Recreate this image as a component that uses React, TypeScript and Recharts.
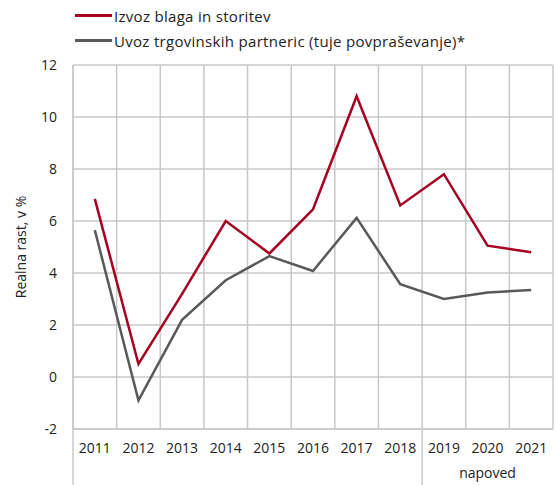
import React from "react";
import { LineChart, Line, XAxis, YAxis, CartesianGrid, Legend, Label } from "recharts";

const years = ["2011", "2012", "2013", "2014", "2015", "2016", "2017", "2018", "2019", "2020", "2021"];
const exportGrowth = [6.85, 0.5, 3.2, 6.0, 4.75, 6.45, 10.8, 6.6, 7.8, 5.05, 4.8];
const partnerImports = [5.65, -0.9, 2.2, 3.72, 4.65, 4.08, 6.12, 3.57, 3.0, 3.25, 3.35];
const yTicks = [-2, 0, 2, 4, 6, 8, 10, 12];
// second level of the category axis: label + index of first year in the group
const groups = [
  { start: 0, label: "" },
  { start: 8, label: "napoved" },
];

const SERIES = [
  { key: "izvoz", name: "Izvoz blaga in storitev", color: "#a50021" },
  { key: "uvoz", name: "Uvoz trgovinskih partneric (tuje povpraševanje)*", color: "#595959" },
];

const W = 556;
const H = 485;
const LEFT = 73;
const RIGHT = 3;
const BOTTOM = 56;
const GRID = "#c8c8c8";
const FONT = "'Open Sans', sans-serif";

const data = years.map((year, i) => ({
  year,
  izvoz: exportGrowth[i],
  uvoz: partnerImports[i],
}));

const band = (W - LEFT - RIGHT) / years.length;
const axisY = H - BOTTOM;

function YearTick({ x, payload, index }: any) {
  const group = groups.find((g) => g.start === index);
  const next = groups.find((g) => g.start > index);
  const groupEnd = next ? next.start : years.length;
  return (
    <g>
      <text x={x} y={axisY + 24} textAnchor="middle" fontSize={14} fill="#222" fontFamily={FONT}>
        {payload.value}
      </text>
      {group && (
        <>
          <line x1={x - band / 2} x2={x - band / 2} y1={axisY} y2={H} stroke={GRID} strokeWidth={1.5} />
          {group.label && (
            <text
              x={x - band / 2 + ((groupEnd - group.start) * band) / 2}
              y={axisY + 49}
              textAnchor="middle"
              fontSize={14}
              fill="#222"
              fontFamily={FONT}
            >
              {group.label}
            </text>
          )}
        </>
      )}
    </g>
  );
}

function LegendBox() {
  return (
    <div style={{ height: 50, paddingLeft: 75, fontFamily: FONT, fontSize: 15, letterSpacing: 0.3, color: "#222" }}>
      {SERIES.map((s) => (
        <div key={s.key} style={{ display: "flex", alignItems: "center", height: 25 }}>
          <span style={{ width: 37, height: 3, background: s.color, marginRight: 2 }} />
          <span>{s.name}</span>
        </div>
      ))}
    </div>
  );
}

export default function App() {
  return (
    <div style={{ position: "absolute", left: 0, top: 0, background: "#fff" }}>
      <LineChart width={W} height={H} data={data} margin={{ top: 15, right: RIGHT, bottom: 0, left: 0 }}>
        <Legend
          verticalAlign="top"
          align="left"
          content={() => <LegendBox />}
          wrapperStyle={{ top: 3, left: 0, width: W }}
        />
        <CartesianGrid
          stroke={GRID}
          strokeWidth={1.5}
          verticalCoordinatesGenerator={({ offset }: any) =>
            Array.from({ length: years.length + 1 }, (_, i) => offset.left + (i * offset.width) / years.length)
          }
        />
        <XAxis
          dataKey="year"
          scale="band"
          axisLine={{ stroke: GRID, strokeWidth: 1.5 }}
          tickLine={false}
          height={BOTTOM}
          interval={0}
          tick={<YearTick />}
        />
        <YAxis
          domain={[-2, 12]}
          ticks={yTicks}
          width={LEFT}
          axisLine={{ stroke: GRID, strokeWidth: 1.5 }}
          tickLine={false}
          tickSize={6}
          tickMargin={10}
          tick={{ fontSize: 14, fill: "#222", fontFamily: FONT }}
        >
          <Label
            value="Realna rast, v %"
            angle={-90}
            position="insideLeft"
            offset={21}
            style={{ textAnchor: "middle", fontSize: 14, fill: "#222", fontFamily: FONT }}
          />
        </YAxis>
        {SERIES.map((s) => (
          <Line
            key={s.key}
            dataKey={s.key}
            name={s.name}
            stroke={s.color}
            strokeWidth={2.5}
            dot={false}
            isAnimationActive={false}
          />
        ))}
      </LineChart>
    </div>
  );
}
